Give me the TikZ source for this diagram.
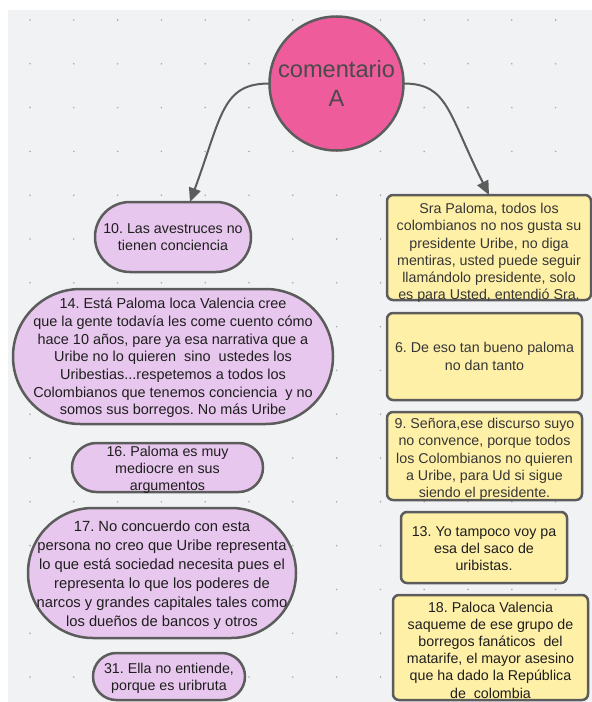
\documentclass[tikz,border=0pt]{standalone}
\usepackage{fontspec}
\setmainfont{Liberation Sans}
\usetikzlibrary{arrows.meta}
\frenchspacing
\definecolor{bgc}{HTML}{F1F2F4}
\definecolor{dotc}{HTML}{A9ABAE}
\definecolor{edgec}{HTML}{5C5C5C}
\definecolor{pinkc}{HTML}{EF5C9C}
\definecolor{lilac}{HTML}{E8C7EE}
\definecolor{yelc}{HTML}{FFF0A8}
\definecolor{ltxt}{HTML}{1E1E1E}
\definecolor{rtxt}{HTML}{363636}
\newcommand\mysize[2]{\fontsize{#1}{#2}\selectfont}
\tikzset{
  shapebox/.style={draw=edgec, line width=2.5bp, inner sep=0pt, outer sep=0pt},
  pill/.style={shapebox, fill=lilac},
  ybox/.style={shapebox, fill=yelc, rounded corners=6bp},
  ltext/.style={align=center, inner sep=0pt, text=ltxt},
  rtext/.style={align=center, inner sep=0pt, text=rtxt, font=\mysize{14.3}{17.3}},
  conn/.style={draw=edgec, line width=2bp, -{Triangle[length=14bp,width=12bp]}}
}
\begin{document}
\begin{tikzpicture}[x=1bp,y=-1bp]
\useasboundingbox (0,0) rectangle (592,702);
\fill[white] (0,0) rectangle (592,702);
\fill[bgc] (8,10) rectangle (592,702);
\foreach \i in {0,...,12}{
  \foreach \j in {0,...,15}{
    \fill[dotc] ({30+43.8*\i},{20+43.8*\j}) circle (0.9bp);
  }
}
% title circle
\node[shapebox, fill=pinkc, circle, minimum size=134bp, align=center, text=edgec!80!black,
      font=\mysize{23.7}{29}] (circ) at (336.5,83.5) {comentario\\A};
% left column
\node[pill, minimum width=156bp, minimum height=70bp, rounded corners=34.9bp] (n10) at (173,237) {};
\node[ltext, font=\mysize{14.3}{17.3}] (t10) at (n10.center) {10. Las avestruces no\\tienen conciencia};
\node[pill, minimum width=320bp, minimum height=135bp, rounded corners=67.4bp] (n14) at (173,356.5) {};
\node[ltext, font=\mysize{14.5}{17.7}] (t14) at ([yshift=-1.5bp]n14.center) {14. Está Paloma loca Valencia cree\\
que la gente todavía les come cuento cómo\\
hace 10 años, pare ya esa narrativa que a\\
Uribe no lo quieren\ \ sino\ \ ustedes los\\
Uribestias...respetemos a todos los\\
Colombianos que tenemos conciencia\ \ y no\\
somos sus borregos. No más Uribe};
\node[pill, minimum width=191bp, minimum height=49bp, rounded corners=24.4bp] (n16) at (167.5,467.5) {};
\node[ltext, font=\mysize{14.3}{17}] (t16) at ([yshift=-2bp]n16.center) {16. Paloma es muy\\mediocre en sus\\argumentos};
\node[pill, minimum width=268bp, minimum height=130bp, rounded corners=64.9bp] (n17) at (162,573) {};
\node[ltext, font=\mysize{14.8}{19}] (t17) at ([yshift=-2bp]n17.center) {17. No concuerdo con esta\\
persona no creo que Uribe representa\\
lo que está sociedad necesita pues el\\
representa lo que los poderes de\\
narcos y grandes capitales tales como\\
los dueños de bancos y otros};
\node[pill, minimum width=152bp, minimum height=47bp, rounded corners=23.4bp] (n31) at (169,676.5) {};
\node[ltext, font=\mysize{14.3}{17}] (t31) at ([yshift=-2bp]n31.center) {31. Ella no entiende,\\porque es uribruta};
% right column
\node[ybox, minimum width=204bp, minimum height=105bp] (sra) at (489,247.5) {};
\node[rtext] (tsra) at ([yshift=-5.5bp]sra.center) {Sra Paloma, todos los\\
colombianos no nos gusta su\\
presidente Uribe, no diga\\
mentiras, usted puede seguir\\
llamándolo presidente, solo\\
es para Usted, entendió Sra.};
\node[ybox, minimum width=195bp, minimum height=87bp] (b6) at (484.5,356.5) {};
\node[rtext] (t6) at (b6.center) {6. De eso tan bueno paloma\\no dan tanto};
\node[ybox, minimum width=195bp, minimum height=88bp] (b9) at (484.5,456) {};
\node[rtext] (t9) at ([yshift=-3.5bp]b9.center) {9. Señora,ese discurso suyo\\
no convence, porque todos\\
los Colombianos no quieren\\
a Uribe, para Ud si sigue\\
siendo el presidente.};
\node[ybox, minimum width=166bp, minimum height=71bp] (b13) at (484,547.5) {};
\node[rtext, text=ltxt] (t13) at ([yshift=-1bp]b13.center) {13. Yo tampoco voy pa\\esa del saco de\\uribistas.};
\node[ybox, minimum width=195bp, minimum height=105bp] (b18) at (490.5,647.5) {};
\node[rtext, text=ltxt] (t18) at ([yshift=-2.5bp]b18.center) {18. Paloca Valencia\\
saqueme de ese grupo de\\
borregos fanáticos\ \ del\\
matarife, el mayor asesino\\
que ha dado la República\\
de\ \ colombia};
% connectors
\draw[conn] (circ.west) .. controls (222,83.5) and (222,115) .. ([xshift=17bp]n10.north);
\draw[conn] (circ.east) .. controls (448,83.5) and (448,113) .. (sra.north);
\end{tikzpicture}
\end{document}
